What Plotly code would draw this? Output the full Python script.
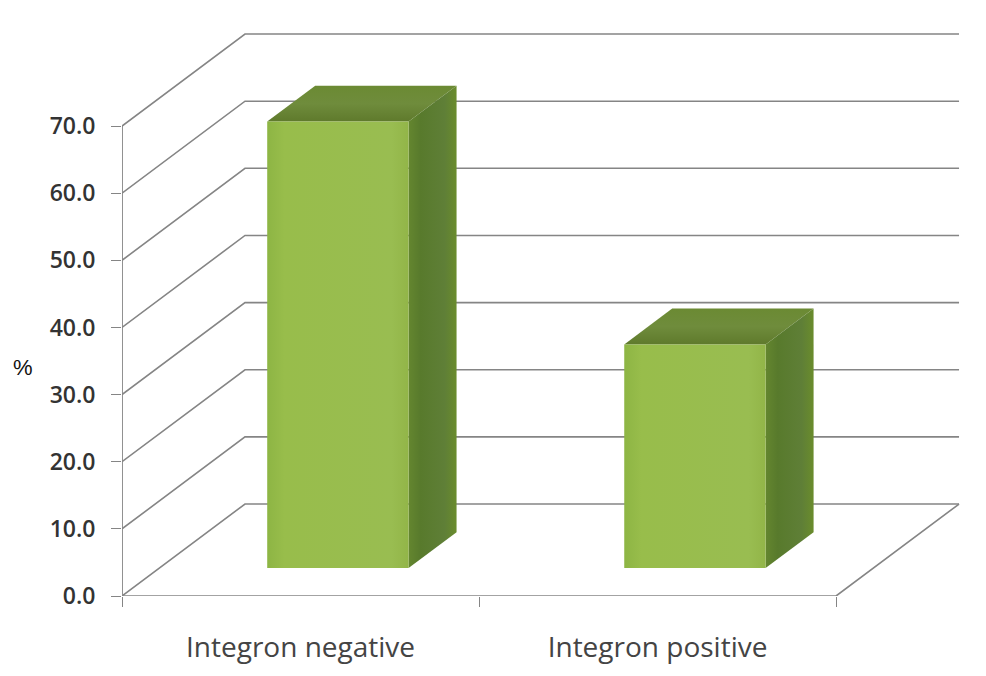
import plotly.graph_objects as go

categories = ["Integron negative", "Integron positive"]
percent_values = [66.5, 33.3]
y_ticks = [0, 10, 20, 30, 40, 50, 60, 70]

# Oblique projection of the 3D column chart onto flat axes.
# x is in category units, y in percent; depth runs from 0 (front) to 1 (back wall).
DEPTH_X = 0.3445
DEPTH_Y = 13.7
BAR_HALF_WIDTH = 0.198
BAR_DEPTH_FRONT = 0.304
BAR_DEPTH_BACK = 0.694
GRID_COLOR = "#858585"


def project(x, y, depth):
    return x + depth * DEPTH_X, y + depth * DEPTH_Y


def polygon(points):
    pairs = [project(*p) for p in points]
    pairs.append(pairs[0])
    return [p[0] for p in pairs], [p[1] for p in pairs]


def line_trace(points, width=1.6):
    xs, ys = zip(*[project(*p) for p in points])
    return go.Scatter(x=xs, y=ys, mode="lines", hoverinfo="skip", showlegend=False,
                      line=dict(color=GRID_COLOR, width=width))


def face_trace(points, stops, direction="horizontal"):
    xs, ys = polygon(points)
    return go.Scatter(x=xs, y=ys, mode="lines", fill="toself", hoverinfo="skip", showlegend=False,
                      line=dict(width=0),
                      fillgradient=dict(type=direction, colorscale=stops))


fig = go.Figure()

# Side wall and back wall gridlines
for tick in y_ticks:
    fig.add_trace(line_trace([(0, tick, 0), (0, tick, 1), (2, tick, 1)]))

# Floor edges and the vertical value axis
fig.add_trace(line_trace([(2, 0, 1), (2, 0, 0), (0, 0, 0)]))
fig.add_trace(line_trace([(0, 0, 0), (0, y_ticks[-1], 0)], width=1.8))

# Columns: top, side and front faces
for i, value in enumerate(percent_values):
    left = i + 0.5 - BAR_HALF_WIDTH
    right = i + 0.5 + BAR_HALF_WIDTH
    zf, zb = BAR_DEPTH_FRONT, BAR_DEPTH_BACK
    fig.add_trace(face_trace(
        [(left, value, zf), (right, value, zf), (right, value, zb), (left, value, zb)],
        [[0, "#5f7a2c"], [0.5, "#6f8c3c"], [1, "#6b8a33"]], "vertical"))
    fig.add_trace(face_trace(
        [(right, 0, zf), (right, value, zf), (right, value, zb), (right, 0, zb)],
        [[0, "#64862f"], [0.25, "#587a2c"], [0.75, "#5f7f37"], [1, "#6a8c2c"]]))
    fig.add_trace(face_trace(
        [(left, 0, zf), (right, 0, zf), (right, value, zf), (left, value, zf)],
        [[0, "#8db544"], [0.12, "#98bd4b"], [0.88, "#99bd51"], [1, "#92b548"]]))

fig.add_annotation(text="%", xref="paper", yref="y", x=0, y=34.1, xshift=-99, xanchor="center",
                   showarrow=False, font=dict(family="Liberation Sans", size=22, color="#111111"))

fig.update_xaxes(
    range=[0, 2.42], showgrid=False, zeroline=False, showline=False, fixedrange=True,
    tickmode="array", tickvals=[0.5, 1.5], ticktext=categories, ticks="outside", ticklen=0,
    ticklabelstandoff=26, tickfont=dict(family="Open Sans", size=28, color="#444444"),
    minor=dict(tickmode="array", tickvals=[0, 1, 2], ticks="outside", ticklen=10,
               tickwidth=1.4, tickcolor=GRID_COLOR, showgrid=False),
)
fig.update_yaxes(
    range=[0, 88.77], showgrid=False, zeroline=False, showline=False, fixedrange=True,
    tickmode="array", tickvals=y_ticks, ticktext=[f"{t:.1f}" for t in y_ticks],
    ticks="outside", ticklen=10, tickwidth=1.4, tickcolor=GRID_COLOR,
    ticklabelstandoff=11,
    tickfont=dict(family="Open Sans", size=23, weight=600, color="#333333"),
)
fig.update_layout(
    width=986, height=676, margin=dict(l=122, r=0, t=0, b=80),
    paper_bgcolor="white", plot_bgcolor="white", showlegend=False,
)

fig.write_html("out.html")
